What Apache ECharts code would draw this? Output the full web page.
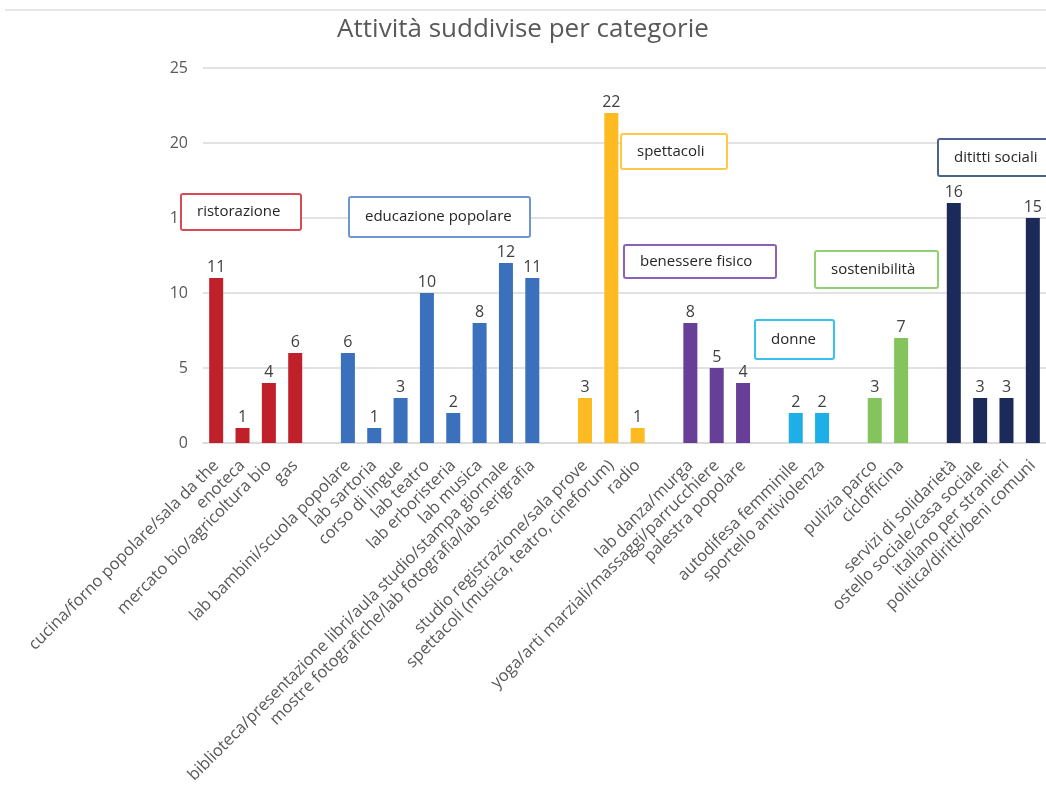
<!DOCTYPE html>
<html>
<head>
<meta charset="utf-8">
<script src="https://cdn.jsdelivr.net/npm/echarts@6/dist/echarts.min.js"></script>
<style>
  html, body { margin: 0; padding: 0; background: #fff; }
  #chart { width: 1046px; height: 796px; }
</style>
</head>
<body>
<div id="chart"></div>
<script>
const groupNames = ['ristorazione', 'educazione popolare', 'spettacoli', 'benessere fisico', 'donne', 'sostenibilità', 'dititti sociali']
const groupColors = ['#C0202A', '#3A70BC', '#FDBA21', '#673E98', '#1DAFE5', '#84C45D', '#1B2A58']
const groupCategories = [
  ['cucina/forno popolare/sala da the', 'enoteca', 'mercato bio/agricoltura bio', 'gas'],
  ['lab bambini/scuola popolare', 'lab sartoria', 'corso di lingue', 'lab teatro', 'lab erboristeria', 'lab musica', 'biblioteca/presentazione libri/aula studio/stampa giornale', 'mostre fotografiche/lab fotografia/lab serigrafia'],
  ['studio registrazione/sala prove', 'spettacoli (musica, teatro, cineforum)', 'radio'],
  ['lab danza/murga', 'yoga/arti marziali/massaggi/parrucchiere', 'palestra popolare'],
  ['autodifesa femminile', 'sportello antiviolenza'],
  ['pulizia parco', 'ciclofficina'],
  ['servizi di solidarietà', 'ostello sociale/casa sociale', 'italiano per stranieri', 'politica/diritti/beni comuni']
]
const groupValues = [
  [11, 1, 4, 6],
  [6, 1, 3, 10, 2, 8, 12, 11],
  [3, 22, 1],
  [8, 5, 4],
  [2, 2],
  [3, 7],
  [16, 3, 3, 15]
]
const yTicks = { min: 0, max: 25, interval: 5 }

// one empty slot between groups
const categories = []
const barData = []
groupCategories.forEach((cats, g) => {
  if (g > 0) {
    categories.push('')
    barData.push(null)
  }
  cats.forEach((c, i) => {
    categories.push(c)
    barData.push({ value: groupValues[g][i], itemStyle: { color: groupColors[g] } })
  })
})

// annotation boxes (pixel layout)
const boxStroke = ['#DA4A52', '#6F96D3', '#FFC845', '#8D62B6', '#38C1EF', '#93D074', '#4E6291']
const boxLayout = [
  [181, 194, 120, 36],
  [349, 197, 181, 40],
  [621, 134, 106, 35],
  [624, 245, 152, 33],
  [755, 320, 79, 39],
  [815, 251, 123, 37],
  [938, 139, 120, 37]
]

const chart = echarts.init(document.getElementById('chart'))

const graphic = [{
  type: 'line',
  shape: { x1: 5, y1: 10, x2: 1046, y2: 10 },
  style: { stroke: '#e6e6e6', lineWidth: 2 },
  z: 10
}]
boxLayout.forEach((b, g) => {
  graphic.push({
    type: 'rect', z: 100,
    shape: { x: b[0], y: b[1], width: b[2], height: b[3], r: 2 },
    style: { fill: '#fff', stroke: boxStroke[g], lineWidth: 2 }
  })
  graphic.push({
    type: 'text', z: 101,
    x: b[0] + 16, y: b[1] + b[3] / 2,
    style: { text: groupNames[g], fill: '#262626', font: '15px "Open Sans"', verticalAlign: 'middle' }
  })
})

chart.setOption({
  animation: false,
  textStyle: { fontFamily: 'Open Sans' },
  title: {
    text: 'Attività suddivise per categorie',
    left: 'center',
    top: 12,
    textStyle: { fontSize: 26, fontWeight: 'normal', color: '#595959', fontFamily: 'Open Sans' }
  },
  grid: { left: 203, top: 68, width: 846, height: 375, containLabel: false },
  xAxis: {
    type: 'category',
    data: categories,
    axisTick: { show: false },
    axisLine: { lineStyle: { color: '#d9d9d9', width: 1.5 } },
    axisLabel: { interval: 0, rotate: 45, margin: 20, color: '#595959', fontSize: 16.5 }
  },
  yAxis: {
    type: 'value',
    min: yTicks.min, max: yTicks.max, interval: yTicks.interval,
    axisLine: { show: false },
    axisTick: { show: false },
    splitLine: { lineStyle: { color: '#d9d9d9', width: 1.5 } },
    axisLabel: { color: '#595959', fontSize: 16, margin: 15 }
  },
  series: [{
    type: 'bar',
    data: barData,
    barWidth: 14,
    label: { show: true, position: 'top', distance: 3, color: '#404040', fontSize: 16 }
  }],
  graphic: graphic
})
</script>
</body>
</html>
